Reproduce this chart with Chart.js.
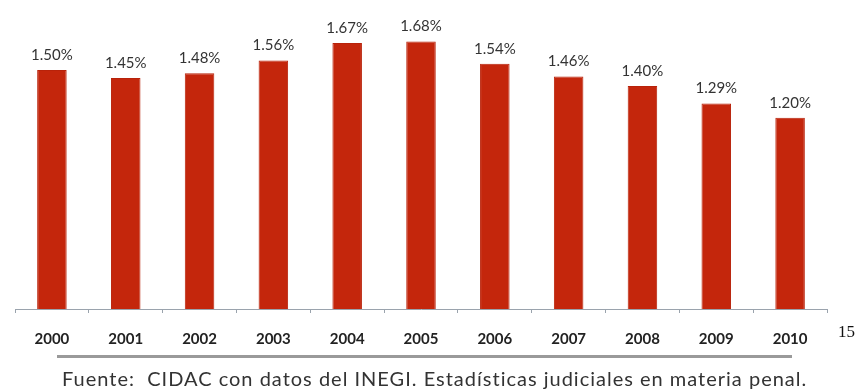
<!DOCTYPE html>
<html>
<head>
<meta charset="utf-8">
<script src="https://cdn.jsdelivr.net/npm/chart.js@4"></script>
<style>
  body { margin: 0; background: #fff; width: 859px; height: 392px; position: relative; overflow: hidden; }
  #wrap { position: absolute; left: 0; top: 0; width: 859px; height: 366px; }
  #rule { position: absolute; left: 57px; top: 355px; width: 735px; height: 3px; background: #9a9a9a; }
  #fuente { position: absolute; left: 62px; top: 366px; font-family: Lato, sans-serif; font-size: 20px; letter-spacing: 1px; color: #333; white-space: nowrap; }
  #pag { position: absolute; left: 838px; top: 322px; font-family: "Liberation Serif", serif; font-size: 17px; color: #111; }
</style>
</head>
<body>
<div id="wrap"><canvas id="chart"></canvas></div>
<div id="rule"></div>
<div id="fuente">Fuente:&nbsp; CIDAC con datos del INEGI. Estadísticas judiciales en materia penal.</div>
<div id="pag">15</div>
<script>
const years = ['2000', '2001', '2002', '2003', '2004', '2005', '2006', '2007', '2008', '2009', '2010'];
const values = [1.50, 1.45, 1.48, 1.56, 1.67, 1.68, 1.54, 1.46, 1.40, 1.29, 1.20];

// percentage labels over each bar
const barLabels = {
    id: 'barLabels',
    afterDatasetsDraw(chart) {
        const ctx = chart.ctx;
        const meta = chart.getDatasetMeta(0);
        ctx.save();
        ctx.font = '15px Lato, sans-serif';
        ctx.fillStyle = '#333';
        ctx.textAlign = 'center';
        ctx.textBaseline = 'middle';
        meta.data.forEach((bar, i) => {
            ctx.fillText(values[i].toFixed(2) + '%', bar.x, bar.y - 15);
        });
        ctx.restore();
    }
};

new Chart(document.getElementById('chart'), {
    type: 'bar',
    data: {
        labels: years,
        datasets: [{
            data: values,
            backgroundColor: '#c4260c',
            borderColor: '#b8220a',
            borderWidth: 1,
            categoryPercentage: 1,
            barPercentage: 0.4
        }]
    },
    options: {
        responsive: true,
        maintainAspectRatio: false,
        animation: false,
        layout: { padding: { left: 15, right: 32, top: 0, bottom: 0 } },
        plugins: {
            legend: { display: false },
            tooltip: { enabled: false }
        },
        scales: {
            x: {
                grid: {
                    offset: true,
                    drawOnChartArea: false,
                    drawTicks: true,
                    tickLength: 4,
                    color: '#9aa3ad'
                },
                border: { color: '#9aa3ad', width: 1 },
                ticks: {
                    padding: 17,
                    color: '#222',
                    font: { family: 'Lato, sans-serif', size: 15, weight: 'bold' }
                },
                afterFit(scale) { scale.height = 57; }
            },
            y: {
                display: false,
                min: 0,
                max: 1.94
            }
        }
    },
    plugins: [barLabels]
});
</script>
</body>
</html>
